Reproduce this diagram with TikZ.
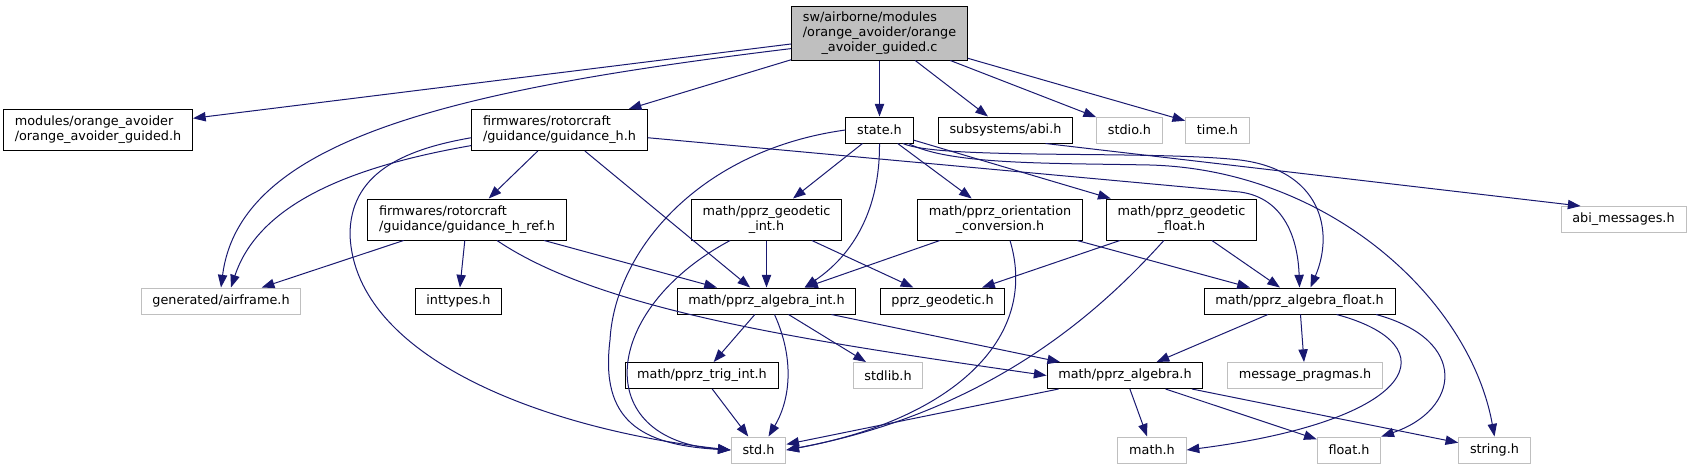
\documentclass[tikz,border=0pt]{standalone}
\usepackage{fontspec}
\setmainfont{DejaVu Sans}
\usepackage{calc}
\usepackage{xcolor}
\usepackage{tikz}
\usetikzlibrary{
  arrows.meta,
  calc
}
\definecolor{edgeblue}{HTML}{191970}
\definecolor{extgrey}{HTML}{BFBFBF}
\newcommand{\lastln}[2]{\makebox[\widthof{#1}]{#2}}

\begin{document}
\begin{tikzpicture}[x=0.75pt, y=-0.75pt,
  hfile/.style={draw=black, fill=white, line width=0.75pt, inner xsep=8.5pt, inner ysep=0pt,
    minimum height=19.5pt, align=left, font=\fontsize{9.6}{11.25}\selectfont},
  sysfile/.style={hfile, draw=extgrey},
  twoln/.style={minimum height=30.75pt},
  incl/.style={draw=edgeblue, line width=0.75pt, -{Triangle[length=9.5pt,width=7pt]}}
]

\useasboundingbox (0,0) rectangle (1693,469);

% The file itself
\node[hfile, fill=extgrey, minimum height=40.5pt] (main) at (879.5,33)
  {sw/airborne/modules\\/orange\_avoider/orange\\\lastln{/orange\_avoider/orange}{\_avoider\_guided.c}};

% Second row
\node[hfile, twoln] (oag) at (98,130) {modules/orange\_avoider\\/orange\_avoider\_guided.h};
\node[hfile, twoln] (gh) at (559.5,130) {firmwares/rotorcraft\\/guidance/guidance\_h.h};
\node[hfile] (state) at (879.5,130) {state.h};
\node[hfile] (abi) at (1005.5,130) {subsystems/abi.h};
\node[sysfile] (stdio) at (1129.5,130) {stdio.h};
\node[sysfile] (time) at (1217.5,130) {time.h};

% Third row
\node[hfile, twoln] (ghref) at (467,219.5) {firmwares/rotorcraft\\/guidance/guidance\_h\_ref.h};
\node[hfile, twoln] (gint) at (766.5,219.5) {math/pprz\_geodetic\\\lastln{math/pprz\_geodetic}{\_int.h}};
\node[hfile, twoln] (orient) at (1000,219.5) {math/pprz\_orientation\\\lastln{math/pprz\_orientation}{\_conversion.h}};
\node[hfile, twoln] (gfloat) at (1181.5,219.5) {math/pprz\_geodetic\\\lastln{math/pprz\_geodetic}{\_float.h}};
\node[sysfile] (abimsg) at (1623.5,219.5) {abi\_messages.h};

% Fourth row
\node[sysfile] (airframe) at (221,301) {generated/airframe.h};
\node[hfile] (inttypes) at (458.5,301) {inttypes.h};
\node[hfile] (aint) at (766.5,301) {math/pprz\_algebra\_int.h};
\node[hfile] (pgeod) at (942.5,301) {pprz\_geodetic.h};
\node[hfile] (afloat) at (1299.5,301) {math/pprz\_algebra\_float.h};

% Fifth row
\node[hfile] (trig) at (702,375.5) {math/pprz\_trig\_int.h};
\node[sysfile] (stdlib) at (888,375.5) {stdlib.h};
\node[hfile] (alg) at (1125,375.5) {math/pprz\_algebra.h};
\node[sysfile] (msgp) at (1305,375.5) {message\_pragmas.h};

% Bottom row
\node[sysfile] (std) at (758.5,450) {std.h};
\node[sysfile] (math) at (1152,450) {math.h};
\node[sysfile] (float) at (1349,450) {float.h};
\node[sysfile] (string) at (1494.5,450) {string.h};

% Includes of the file
\draw[incl] (main) -- (oag);
\draw[incl] (main.190) .. controls (450,90) and (240,140) .. (airframe.north);
\draw[incl] (main) -- (gh);
\draw[incl] (main) -- (state);
\draw[incl] (main) -- (abi);
\draw[incl] (main) -- (stdio);
\draw[incl] (main) -- (time);

% guidance_h.h
\draw[incl] (gh) -- (ghref);
\draw[incl] (gh.190) .. controls (360,165) and (260,200) .. ($(airframe.north)+(10,0)$);
\draw[incl] (gh.185) .. controls (400,150) and (350,175) .. (350,235)
    .. controls (355,360) and (550,430) .. (std.west);
\draw[incl] (gh) -- (aint);
\draw[incl] (gh.-5) -- (1240,192) .. controls (1285,198) and (1298,240) .. (afloat.north);

% state.h
\draw[incl] (state.west) .. controls (700,150) and (615,250) .. (610,340)
    .. controls (600,420) and (640,445) .. (std.west);
\draw[incl] (state) -- (gint);
\draw[incl] (state.south) .. controls (880,200) and (860,250) .. ($(aint.north)+(38,0)$);
\draw[incl] (state) -- (orient);
\draw[incl] (state) -- (gfloat);
\draw[incl] (state.-30) .. controls (940,160) and (1150,150) .. (1240,160)
    .. controls (1320,170) and (1335,230) .. ($(afloat.north)+(11,0)$);
\draw[incl] (state.-25) .. controls (950,165) and (1050,163) .. (1150,165)
    .. controls (1330,170) and (1470,300) .. (string.north);

% subsystems/abi.h
\draw[incl] ($(abi.south)+(40,0)$) -- ($(abimsg.north west)+(20,0)$);

% guidance_h_ref.h
\draw[incl] (ghref) -- (airframe);
\draw[incl] (ghref) -- (inttypes);
\draw[incl] (ghref) -- (aint);
\draw[incl] (ghref.-35) .. controls (600,310) and (800,340) .. (alg.west);

% geodetic and orientation headers
\draw[incl] (gint) -- (aint);
\draw[incl] (gint) -- (pgeod);
\draw[incl] (gint.210) .. controls (600,310) and (590,440) .. (std.west);
\draw[incl] (orient) -- (aint);
\draw[incl] ($(orient.south)+(10,0)$) .. controls (1040,340) and (950,420) .. (std.east);
\draw[incl] (orient) -- (afloat);
\draw[incl] (gfloat) -- (pgeod);
\draw[incl] (gfloat) -- (afloat);
\draw[incl] (gfloat.230) .. controls (1110,300) and (1000,410) .. (std.east);

% algebra headers
\draw[incl] (aint) -- (trig);
\draw[incl] ($(aint.south)+(8,0)$) .. controls (795,360) and (790,400) .. ($(std.north)+(10,0)$);
\draw[incl] (aint) -- (stdlib);
\draw[incl] (aint) -- (alg);
\draw[incl] (trig) -- (std);
\draw[incl] (alg) -- (std);
\draw[incl] (alg) -- (math);
\draw[incl] (alg) -- (float);
\draw[incl] (alg) -- (string);
\draw[incl] (afloat) -- (alg);
\draw[incl] (afloat) -- (msgp);
\draw[incl] (afloat.-20) .. controls (1450,345) and (1420,420) .. (math.east);
\draw[incl] (afloat.-10) .. controls (1470,340) and (1460,410) .. (float.north east);

\end{tikzpicture}
\end{document}
